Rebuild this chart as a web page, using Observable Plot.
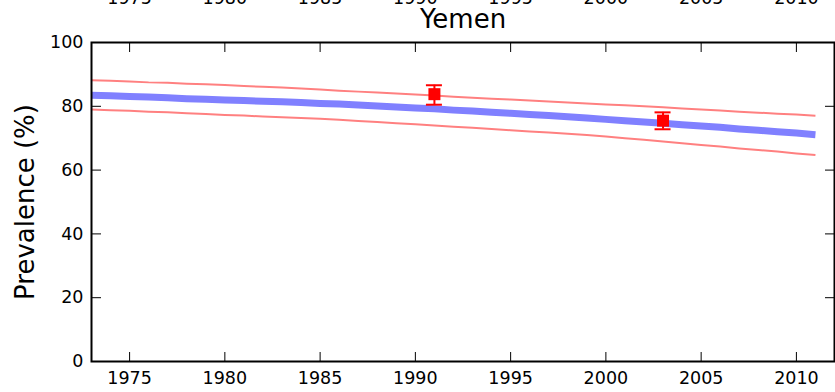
<!DOCTYPE html>
<html>
<head>
<meta charset="utf-8">
<script src="https://cdn.jsdelivr.net/npm/d3@7"></script>
<script src="https://cdn.jsdelivr.net/npm/@observablehq/plot@0.6"></script>
<style>
  html, body { margin: 0; padding: 0; background: #fff; }
  svg { display: block; }
</style>
</head>
<body>
<div id="chart"></div>
<script>
const title = "Yemen";
const yLabel = "Prevalence (%)";
const years = [1973,1974,1975,1976,1977,1978,1979,1980,1981,1982,1983,1984,1985,1986,1987,1988,1989,1990,1991,1992,1993,1994,1995,1996,1997,1998,1999,2000,2001,2002,2003,2004,2005,2006,2007,2008,2009,2010,2011];
const central = [83.5,83.3,83.1,82.9,82.7,82.4,82.2,82.0,81.8,81.6,81.4,81.2,80.9,80.7,80.4,80.1,79.8,79.5,79.2,78.8,78.5,78.1,77.8,77.4,77.1,76.7,76.3,75.9,75.5,75.1,74.7,74.2,73.8,73.4,72.9,72.5,72.0,71.6,71.1];
const upper = [88.2,88.0,87.8,87.5,87.4,87.1,86.9,86.7,86.4,86.1,85.9,85.6,85.3,84.9,84.6,84.3,84.0,83.7,83.4,83.0,82.7,82.4,82.1,81.8,81.5,81.2,80.9,80.6,80.3,80.0,79.7,79.3,79.0,78.7,78.3,78.0,77.7,77.4,77.0];
const lower = [79.0,78.8,78.6,78.3,78.1,77.8,77.6,77.3,77.1,76.8,76.6,76.3,76.1,75.8,75.4,75.1,74.7,74.4,74.0,73.6,73.3,72.9,72.5,72.1,71.8,71.4,71.0,70.5,70.0,69.5,69.0,68.4,67.9,67.4,66.8,66.3,65.8,65.2,64.7];
const surveyYears = [1991, 2003];
const surveyValues = [83.8, 75.5];
const surveyLow = [80.5, 72.8];
const surveyHigh = [86.6, 78.1];
const xTicks = [1975,1980,1985,1990,1995,2000,2005,2010];
const yTicks = [0,20,40,60,80,100];

const series = years.map((y, i) => ({year: y, central: central[i], upper: upper[i], lower: lower[i]}));
const surveys = surveyYears.map((y, i) => ({year: y, value: surveyValues[i], lo: surveyLow[i], hi: surveyHigh[i]}));
const capHalf = 0.42;
const font = "DejaVu Sans";

const chart = Plot.plot({
  width: 835,
  height: 392,
  marginLeft: 91,
  marginRight: 1,
  marginTop: 42,
  marginBottom: 31,
  style: {fontFamily: font, background: "#fff", color: "#000"},
  x: {domain: [1973, 2012]},
  y: {domain: [0, 100]},
  marks: [
    Plot.line(series, {x: "year", y: "upper", stroke: "#ff8080", strokeWidth: 2, strokeLinecap: "butt", strokeLinejoin: "round"}),
    Plot.line(series, {x: "year", y: "lower", stroke: "#ff8080", strokeWidth: 2, strokeLinecap: "butt", strokeLinejoin: "round"}),
    Plot.line(series, {x: "year", y: "central", stroke: "#8080ff", strokeWidth: 7, strokeLinecap: "butt", strokeLinejoin: "round"}),
    Plot.ruleX(surveys, {x: "year", y1: "lo", y2: "hi", stroke: "#ff0000", strokeWidth: 2}),
    Plot.ruleY(surveys, {y: "hi", x1: d => d.year - capHalf, x2: d => d.year + capHalf, stroke: "#ff0000", strokeWidth: 2}),
    Plot.ruleY(surveys, {y: "lo", x1: d => d.year - capHalf, x2: d => d.year + capHalf, stroke: "#ff0000", strokeWidth: 2}),
    Plot.dot(surveys, {x: "year", y: "value", symbol: "square", r: 6.77, fill: "#ff0000", stroke: "none"}),
    Plot.frame({stroke: "#000", strokeWidth: 2}),
    Plot.axisX({anchor: "bottom", ticks: xTicks, tickFormat: d => String(d), tickSize: -9, tickPadding: 19, fontSize: 17.5, label: null}),
    Plot.axisX({anchor: "top", ticks: xTicks, tickFormat: d => String(d), tickSize: -9, tickPadding: 48, fontSize: 17.5, label: null}),
    Plot.axisY({anchor: "left", ticks: yTicks, tickSize: -10, tickPadding: 18, fontSize: 17.5, label: yLabel, labelAnchor: "center", labelOffset: 76, labelArrow: "none"}),
    Plot.axisY({anchor: "right", ticks: yTicks, tickSize: -10, tickFormat: () => "", label: null}),
    Plot.text([title], {frameAnchor: "top", dy: -23, lineAnchor: "middle", fontSize: 26, fill: "#000"})
  ]
});
chart.querySelectorAll("[aria-label='y-axis label'] text, g[aria-label='y-axis label']").forEach(el => el.setAttribute("font-size", "26"));
document.getElementById("chart").appendChild(chart);
</script>
</body>
</html>
